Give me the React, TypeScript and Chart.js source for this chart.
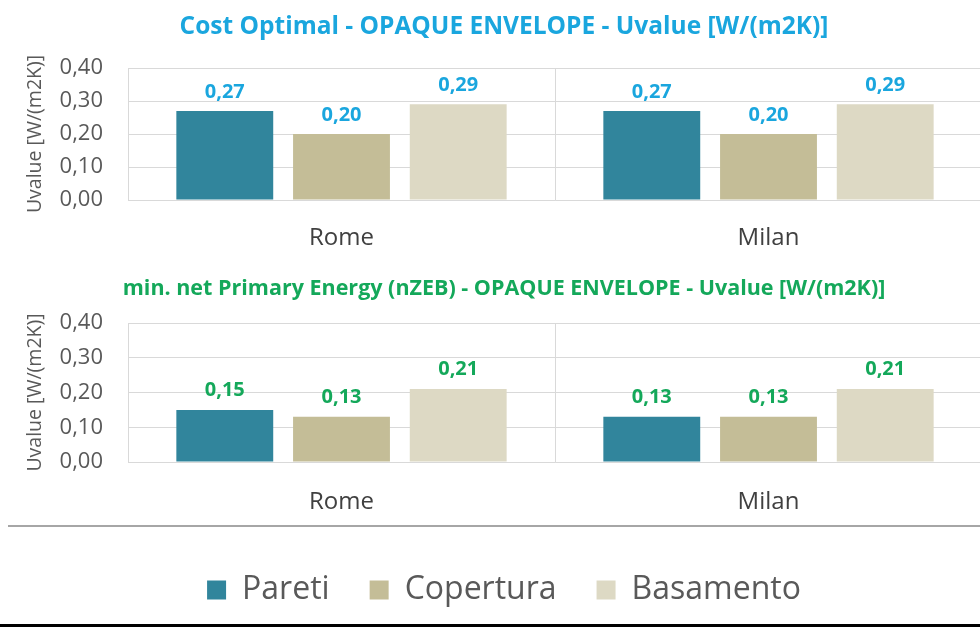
import React, { useEffect, useRef } from 'react';
import { Chart, registerables } from 'chart.js';
Chart.register(...registerables);

const categories = ['Rome', 'Milan'];
const seriesNames = ['Pareti', 'Copertura', 'Basamento'];
const seriesColors = ['#31859c', '#c4bd97', '#ddd9c4'];
const costOptimalPareti = [0.27, 0.27];
const costOptimalCopertura = [0.2, 0.2];
const costOptimalBasamento = [0.29, 0.29];
const nzebPareti = [0.15, 0.13];
const nzebCopertura = [0.13, 0.13];
const nzebBasamento = [0.21, 0.21];
const yMin = 0;
const yMax = 0.4;
const yStep = 0.1;
const topTitle = 'Cost Optimal - OPAQUE ENVELOPE - Uvalue [W/(m2K)]';
const bottomTitle = 'min. net Primary Energy (nZEB) - OPAQUE ENVELOPE - Uvalue [W/(m2K)]';
const yAxisTitle = 'Uvalue [W/(m2K)]';

const FONT = "'Open Sans', sans-serif";
const fmt = (v: number) => v.toFixed(2).replace('.', ',');

const valueLabels = {
  id: 'valueLabels',
  afterDatasetsDraw(chart: any, _args: any, opts: any) {
    const ctx = chart.ctx;
    ctx.save();
    ctx.font = `bold ${opts.size}px ${FONT}`;
    ctx.fillStyle = opts.color;
    ctx.textAlign = 'center';
    ctx.textBaseline = 'alphabetic';
    chart.data.datasets.forEach((ds: any, i: number) => {
      const meta = chart.getDatasetMeta(i);
      meta.data.forEach((bar: any, j: number) => {
        ctx.fillText(fmt(ds.data[j]), bar.x, bar.y - opts.offset);
      });
    });
    ctx.restore();
  },
};

const separator = {
  id: 'separator',
  afterDraw(chart: any, _args: any, opts: any) {
    if (!opts || !opts.show) return;
    const ctx = chart.ctx;
    const y = chart.legend.top - opts.gap;
    ctx.save();
    ctx.strokeStyle = '#a6a6a6';
    ctx.lineWidth = 2;
    ctx.beginPath();
    ctx.moveTo(8, y);
    ctx.lineTo(chart.width, y);
    ctx.stroke();
    ctx.restore();
  },
};

function makeConfig(p: any) {
  return {
    type: 'bar',
    data: {
      labels: categories,
      datasets: seriesNames.map((name, i) => ({
        label: name,
        data: p.values[i],
        backgroundColor: seriesColors[i],
        borderWidth: 0,
        categoryPercentage: 0.82,
        barPercentage: 0.83,
      })),
    },
    plugins: [valueLabels, separator],
    options: {
      responsive: false,
      animation: false,
      devicePixelRatio: 1,
      layout: { padding: { left: 26, right: 0, top: 0, bottom: p.padBottom } },
      plugins: {
        title: {
          display: true,
          text: p.title,
          color: p.color,
          font: { family: FONT, size: p.titleSize, weight: 'bold' },
          padding: { top: p.titleTop, bottom: p.titleBottom },
        },
        legend: {
          display: p.legend,
          position: 'bottom',
          labels: {
            boxWidth: 19,
            boxHeight: 19,
            padding: 40,
            color: '#595959',
            font: { family: FONT, size: 32 },
          },
        },
        tooltip: { enabled: false },
        valueLabels: { color: p.color, size: 20, offset: p.labelOffset },
        separator: { show: p.legend, gap: 8 },
      },
      scales: {
        x: {
          grid: { color: '#d9d9d9', drawTicks: false, tickLength: 0 },
          border: { color: '#d9d9d9' },
          ticks: { color: '#404040', font: { family: FONT, size: 24 }, padding: p.xPad },
          afterFit: (s: any) => { s.height = p.xHeight; },
        },
        y: {
          min: yMin,
          max: yMax,
          grid: { color: '#d9d9d9', drawTicks: false, tickLength: 0 },
          border: { color: '#d9d9d9' },
          ticks: {
            stepSize: yStep,
            color: '#595959',
            padding: 25,
            font: { family: FONT, size: 22 },
            callback: (v: any) => fmt(Number(v)),
          },
          title: {
            display: true,
            text: yAxisTitle,
            color: '#595959',
            font: { family: FONT, size: 19.5 },
            padding: { top: -2.7, bottom: 0 },
          },
          afterFit: (s: any) => { s.width = 102; },
        },
      },
    },
  };
}

export default function App() {
  const topRef = useRef<HTMLCanvasElement>(null);
  const botRef = useRef<HTMLCanvasElement>(null);
  useEffect(() => {
    const c1 = new Chart(topRef.current as any, makeConfig({
      values: [costOptimalPareti, costOptimalCopertura, costOptimalBasamento],
      title: topTitle,
      color: '#1aa6de',
      titleSize: 24.5,
      titleTop: 12.3,
      titleBottom: 26.3,
      legend: false,
      padBottom: 0,
      xPad: 23.6,
      xHeight: 61,
      labelOffset: 13,
    }) as any);
    const c2 = new Chart(botRef.current as any, makeConfig({
      values: [nzebPareti, nzebCopertura, nzebBasamento],
      title: bottomTitle,
      color: '#14a85a',
      titleSize: 21.5,
      titleTop: 15.1,
      titleBottom: 21.1,
      legend: true,
      padBottom: 11,
      xPad: 25.6,
      xHeight: 72,
      labelOffset: 14,
    }) as any);
    return () => { c1.destroy(); c2.destroy(); };
  }, []);
  return (
    <div style={{ position: 'absolute', left: 0, top: 0, width: 980, height: 627, overflow: 'hidden', background: '#fff' }}>
      <canvas ref={topRef} width={982} height={261} style={{ position: 'absolute', left: 0, top: 0 }} />
      <canvas ref={botRef} width={982} height={366} style={{ position: 'absolute', left: 0, top: 261 }} />
      <div style={{ position: 'absolute', left: 0, top: 624, width: 980, height: 3, background: '#000' }} />
    </div>
  );
}
